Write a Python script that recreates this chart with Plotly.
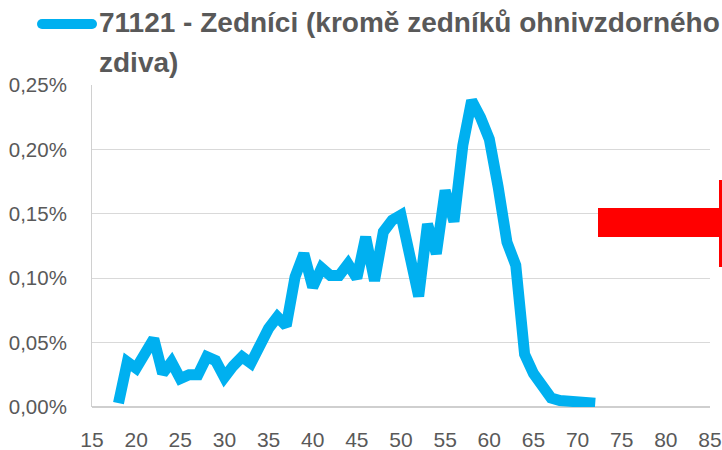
import plotly.graph_objects as go

ages = list(range(18, 73))
share_pct = [0.003, 0.035, 0.030, 0.041, 0.053, 0.026, 0.035, 0.022, 0.025, 0.025,
             0.039, 0.036, 0.023, 0.032, 0.039, 0.034, 0.048, 0.061, 0.070, 0.063,
             0.101, 0.119, 0.093, 0.108, 0.102, 0.102, 0.111, 0.100, 0.132, 0.098,
             0.136, 0.145, 0.149, 0.120, 0.086, 0.142, 0.119, 0.168, 0.144, 0.203,
             0.238, 0.225, 0.208, 0.171, 0.128, 0.110, 0.041, 0.026, 0.016, 0.007,
             0.005, 0.005, 0.005, 0.005, 0.003]
x_ticks = list(range(15, 90, 5))
y_ticks = [0.0, 0.05, 0.10, 0.15, 0.20, 0.25]
y_tick_text = ["0,00%", "0,05%", "0,10%", "0,15%", "0,20%", "0,25%"]
title_lines = ["71121 - Zedníci (kromě zedníků ohnivzdorného", "zdiva)"]

W, H = 722, 450
L, R, T, B = 92, 12, 85, 43
PW, PH = W - L - R, H - T - B

def px(x):
    return (x - L) / PW

def py(y):
    return (H - B - y) / PH

FONT = "Liberation Sans, Arial, sans-serif"
GREY = "#595959"
BLUE = "#00B0F0"
RED = "#FF0000"

fig = go.Figure()
fig.add_trace(go.Scatter(x=ages, y=share_pct, mode="lines",
                         line=dict(color=BLUE, width=11), showlegend=False,
                         hoverinfo="skip"))

shapes = [
    # legend line
    dict(type="line", xref="paper", yref="paper", x0=px(42), x1=px(92), y0=py(24), y1=py(24),
         line=dict(color=BLUE, width=10)),
    dict(type="circle", xref="paper", yref="paper", x0=px(37), x1=px(47), y0=py(29), y1=py(19),
         fillcolor=BLUE, line=dict(width=0)),
    dict(type="circle", xref="paper", yref="paper", x0=px(87), x1=px(97), y0=py(29), y1=py(19),
         fillcolor=BLUE, line=dict(width=0)),
    dict(type="line", xref="paper", yref="paper", x0=0, x1=1, y0=0, y1=0,
         line=dict(color="#BFBFBF", width=1.5), layer="below"),
]

annotations = [
    dict(text="<b>" + title_lines[0] + "</b>", xref="paper", yref="paper",
         x=px(97), y=py(23), xanchor="left", yanchor="middle", align="left",
         showarrow=False, font=dict(family=FONT, size=28, color=GREY)),
    dict(text="<b>" + title_lines[1] + "</b>", xref="paper", yref="paper",
         x=px(97), y=py(62), xanchor="left", yanchor="middle", align="left",
         showarrow=False, font=dict(family=FONT, size=28, color=GREY)),
    # red arrow (drawn as filled boxes so it is not clipped)
    dict(text="", xref="paper", yref="paper", x=px(598), y=py(208), xanchor="left",
         yanchor="top", width=126, height=29, bgcolor=RED, borderpad=0, borderwidth=0,
         showarrow=False),
    dict(text="", xref="paper", yref="paper", x=px(719), y=py(180), xanchor="left",
         yanchor="top", width=3, height=87, bgcolor=RED, borderpad=0, borderwidth=0,
         showarrow=False),
]

fig.update_layout(
    width=W, height=H,
    margin=dict(l=L, r=R, t=T, b=B),
    paper_bgcolor="white", plot_bgcolor="white",
    font=dict(family=FONT, color=GREY, size=21),
    shapes=shapes,
    annotations=annotations,
    xaxis=dict(range=[15, 85], tickvals=x_ticks, showgrid=False, zeroline=False,
               showline=False, ticks="outside", ticklen=14, tickcolor="rgba(0,0,0,0)",
               tickfont=dict(size=21, color=GREY), fixedrange=True, automargin=False),
    yaxis=dict(range=[0, 0.25], tickvals=y_ticks, ticktext=y_tick_text, showgrid=True,
               gridcolor="#D9D9D9", gridwidth=1, zeroline=False,
               showline=True, linecolor="#D0D0D0", linewidth=1,
               ticks="outside", ticklen=20, tickcolor="rgba(0,0,0,0)",
               tickfont=dict(size=20.5, color=GREY), fixedrange=True, automargin=False),
)

fig.write_html("out.html", config={"displayModeBar": False},
               post_script="document.body.style.margin='0';document.body.style.overflow='hidden';")
